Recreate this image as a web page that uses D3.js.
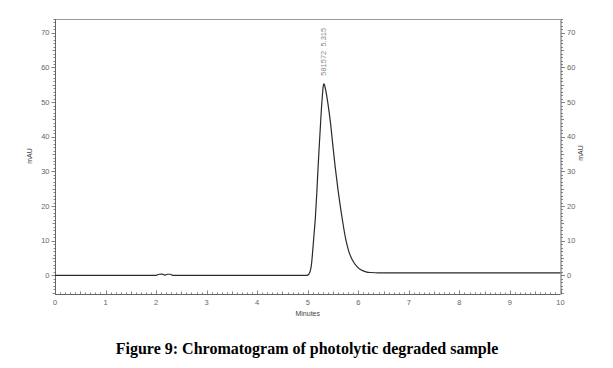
<!DOCTYPE html>
<html>
<head>
<meta charset="utf-8">
<script src="https://cdn.jsdelivr.net/npm/d3@7"></script>
<style>
  html, body { margin: 0; padding: 0; background: #fff; }
  svg { display: block; }
</style>
</head>
<body>
<svg id="chart" width="613" height="368"></svg>
<script>
// ---- data ----
const times  = [0, 2.0, 2.06, 2.12, 2.17, 2.22, 2.28, 2.33, 4.98, 5.02, 5.05, 5.07, 5.095, 5.12, 5.15, 5.18, 5.20, 5.23, 5.25, 5.27, 5.29, 5.305, 5.315, 5.33, 5.35, 5.37, 5.40, 5.45, 5.50, 5.545, 5.60, 5.68, 5.75, 5.81, 5.88, 5.97, 6.06, 6.15, 6.25, 6.4, 10];
const values = [0, 0,   0.3,  0.35, 0.05, 0.3,  0.3,  0,    0,    0.3,  1.3,  2.7,  6.5,   11,   16.5, 24,   30,   38,   43,   48,   52,   54.5,  55.3,  55,   53.8, 52.3, 49.5, 44,   37,   31,    24.5, 16.5, 10.5, 7,    4.5,  2.6,  1.5,  1.0,  0.8,  0.72, 0.7];
const xTicks = [0,1,2,3,4,5,6,7,8,9,10];
const yTicks = [0,10,20,30,40,50,60,70];
const peakLabel = "581572  5.315";
const peakTime = 5.315, peakValue = 55.3;
const xTitle = "Minutes", yTitle = "mAU";
const caption = "Figure 9: Chromatogram of photolytic degraded sample";

// ---- layout ----
const svg = d3.select("#chart");
const L = 55, R = 560.5, T = 19, B = 294;
const x = d3.scaleLinear().domain([0, 10]).range([L, R]);
const y = d3.scaleLinear().domain([-5.4, 74]).range([B, T]);
const axisCol = "#666", labCol = "#666";
const tickFont = "Arial, 'Liberation Sans', sans-serif";

// frame
svg.append("line").attr("x1", L).attr("x2", R).attr("y1", T + 0.5).attr("y2", T + 0.5)
  .attr("stroke", "#999").attr("stroke-width", 1);

// left axis
const yMinor = d3.range(-5, 75, 1);
const gl = svg.append("g").attr("transform", `translate(${L + 0.5},0)`);
gl.append("line").attr("y1", T).attr("y2", B).attr("stroke", axisCol);
gl.selectAll("line.mn").data(yMinor).join("line").attr("class", "mn")
  .attr("x1", 0).attr("x2", d => d % 10 === 0 ? -4 : (d % 5 === 0 ? -3 : -2))
  .attr("y1", d => Math.round(y(d)) + 0.5).attr("y2", d => Math.round(y(d)) + 0.5)
  .attr("stroke", axisCol).attr("stroke-width", 0.8);
gl.selectAll("text").data(yTicks).join("text")
  .attr("x", -6).attr("y", d => y(d)).attr("dy", "0.35em")
  .attr("text-anchor", "end").attr("font-family", tickFont).attr("font-size", 7.5)
  .attr("fill", labCol).text(d => d);

// right axis
const gr = svg.append("g").attr("transform", `translate(${R + 0.5},0)`);
gr.append("line").attr("y1", T).attr("y2", B).attr("stroke", axisCol);
gr.selectAll("line.mn").data(yMinor).join("line").attr("class", "mn")
  .attr("x1", 0).attr("x2", d => d % 10 === 0 ? 4 : (d % 5 === 0 ? 3 : 2))
  .attr("y1", d => Math.round(y(d)) + 0.5).attr("y2", d => Math.round(y(d)) + 0.5)
  .attr("stroke", axisCol).attr("stroke-width", 0.8);
gr.selectAll("text").data(yTicks).join("text")
  .attr("x", 6).attr("y", d => y(d)).attr("dy", "0.35em")
  .attr("text-anchor", "start").attr("font-family", tickFont).attr("font-size", 7.5)
  .attr("fill", labCol).text(d => d);

// bottom axis
const xMinor = d3.range(0, 100.5, 1).map(d => d / 10);
const gb = svg.append("g").attr("transform", `translate(0,${B + 0.5})`);
gb.append("line").attr("x1", L).attr("x2", R).attr("stroke", axisCol);
gb.selectAll("line.mn").data(xMinor).join("line").attr("class", "mn")
  .attr("x1", d => Math.round(x(d)) + 0.5).attr("x2", d => Math.round(x(d)) + 0.5)
  .attr("y1", 0).attr("y2", (d, i) => i % 10 === 0 ? -4 : (i % 5 === 0 ? -3 : -2))
  .attr("stroke", axisCol).attr("stroke-width", 0.8);
gb.selectAll("text").data(xTicks).join("text")
  .attr("x", d => x(d)).attr("y", 10.5)
  .attr("text-anchor", "middle").attr("font-family", tickFont).attr("font-size", 7.5)
  .attr("fill", labCol).text(d => d);

// axis titles
svg.append("text").attr("x", (L + R) / 2).attr("y", 316).attr("text-anchor", "middle")
  .attr("font-family", tickFont).attr("font-size", 7).attr("fill", "#444").text(xTitle);
svg.append("text").attr("transform", "translate(32,156) rotate(-90)").attr("text-anchor", "middle")
  .attr("font-family", tickFont).attr("font-size", 7).attr("fill", "#444").text(yTitle);
svg.append("text").attr("transform", "translate(583,153) rotate(-90)").attr("text-anchor", "middle")
  .attr("font-family", tickFont).attr("font-size", 7).attr("fill", "#444").text(yTitle);

// trace
const pts = times.map((t, i) => [t, values[i]]);
svg.append("path").datum(pts)
  .attr("d", d3.line().x(d => x(d[0])).y(d => y(d[1])).curve(d3.curveMonotoneX))
  .attr("fill", "none").attr("stroke", "#2a2a2a").attr("stroke-width", 1.2);

// peak annotation
svg.append("text")
  .attr("transform", `translate(${x(peakTime) + 2.5},${y(peakValue) - 8}) rotate(-90)`)
  .attr("text-anchor", "start").attr("font-family", tickFont).attr("font-size", 7.5)
  .attr("fill", "#888").style("white-space", "pre").text(peakLabel);

// caption
svg.append("text").attr("x", 307).attr("y", 354).attr("text-anchor", "middle")
  .attr("font-family", "'Liberation Serif', 'Times New Roman', serif")
  .attr("font-weight", "bold").attr("font-size", 16).attr("fill", "#000").text(caption);
</script>
</body>
</html>
